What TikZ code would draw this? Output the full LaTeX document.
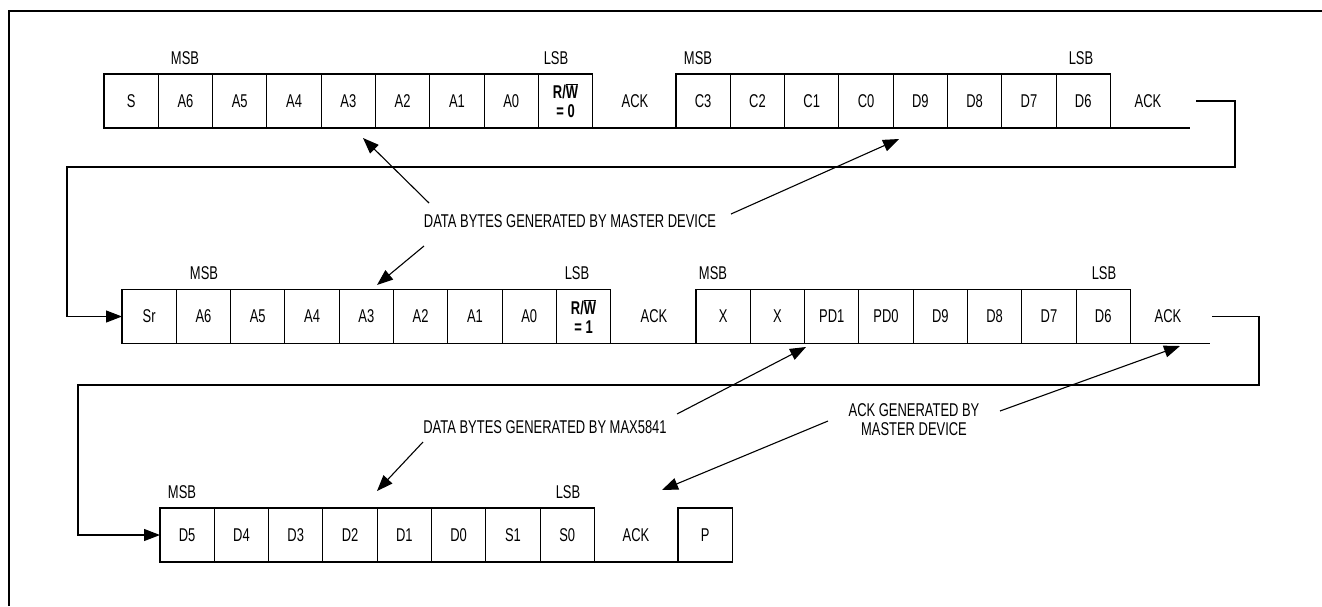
\documentclass[tikz,border=0pt]{standalone}
\usepackage{fontspec}
\setmainfont{Liberation Sans}[FakeStretch=0.7]
\usetikzlibrary{arrows.meta}
\begin{document}
\begin{tikzpicture}[x=1pt,y=-1pt,
  every node/.style={font=\fontsize{18.5}{19}\selectfont},
  bitbox/.style={draw,line width=1.1pt,minimum width=54.3pt,minimum height=54pt,inner sep=0pt,outer sep=0pt,align=center},
  plain/.style={inner sep=0pt},
  wire/.style={line width=1.1pt},
  pointer/.style={line width=1.1pt,-{Triangle[length=16pt,width=12pt]}},
  frame/.style={line width=2pt}]
\useasboundingbox (0,0) rectangle (1322,606);
\coordinate (fbl) at (9,606);
\coordinate (ftl) at (9,11);
\coordinate (ftr) at (1322,11);
\draw[frame] (fbl) -- (ftl) -- (ftr);

% ---------- top row ----------
\foreach \lab [count=\i] in {S,A6,A5,A4,A3,A2,A1,A0}
  \node[bitbox] (t\i) at ({104+54.3*(\i-0.5)},101) {\lab};
\node[bitbox] (t9) at ({104+54.3*8.5},101) {\bfseries R/$\overline{\hbox{\bfseries W}}$\\\bfseries = 0};
\node[plain] (ta1) at (635,101) {ACK};
\foreach \lab [count=\i] in {C3,C2,C1,C0,D9,D8,D7,D6}
  \node[bitbox] (u\i) at ({676+54.3*(\i-0.5)},101) {\lab};
\node[plain] (ta2) at (1148,101) {ACK};
\coordinate (tend) at (1190,128);
\draw[wire] (t1.south west) -- (tend);
\node[plain] (tmsb1) at (185,58) {MSB};
\node[plain] (tlsb1) at (556,58) {LSB};
\node[plain] (tmsb2) at (698,58) {MSB};
\node[plain] (tlsb2) at (1081,58) {LSB};

% top bracket
\coordinate (tb0) at (1196,101);
\coordinate (tb1) at (1235,101);
\coordinate (tb2) at (1235,167);
\coordinate (tb3) at (67,167);

% ---------- middle row ----------
\foreach \lab [count=\i] in {Sr,A6,A5,A4,A3,A2,A1,A0}
  \node[bitbox] (m\i) at ({122+54.3*(\i-0.5)},316.5) {\lab};
\node[bitbox] (m9) at ({122+54.3*8.5},316.5) {\bfseries R/$\overline{\hbox{\bfseries W}}$\\\bfseries = 1};
\node[plain] (ma1) at (654,316.5) {ACK};
\foreach \lab [count=\i] in {X,X,PD1,PD0,D9,D8,D7,D6}
  \node[bitbox] (n\i) at ({696+54.3*(\i-0.5)},316.5) {\lab};
\node[plain] (ma2) at (1168,316.5) {ACK};
\coordinate (mend) at (1210,343.5);
\draw[wire] (m1.south west) -- (mend);
\node[plain] (mmsb1) at (204,273) {MSB};
\node[plain] (mlsb1) at (577,273) {LSB};
\node[plain] (mmsb2) at (713,273) {MSB};
\node[plain] (mlsb2) at (1104,273) {LSB};

\draw[pointer] (tb0) -- (tb1) -- (tb2) -- (tb3) |- (m1.west);

% middle bracket
\coordinate (mb0) at (1212,316.5);
\coordinate (mb1) at (1259,316.5);
\coordinate (mb2) at (1259,385);
\coordinate (mb3) at (78,385);

% ---------- bottom row ----------
\foreach \lab [count=\i] in {D5,D4,D3,D2,D1,D0,S1,S0}
  \node[bitbox] (b\i) at ({160+54.3*(\i-0.5)},535) {\lab};
\node[plain] (ba1) at (636,535) {ACK};
\node[bitbox] (bp) at ({678+54.3*0.5},535) {P};
\draw[wire] (b1.south west) -- (bp.south east);
\node[plain] (bmsb) at (182,492) {MSB};
\node[plain] (blsb) at (568,492) {LSB};

\draw[pointer] (mb0) -- (mb1) -- (mb2) -- (mb3) |- (b1.west);

% ---------- annotations ----------
\node[plain] (txt1) at (570,221) {DATA BYTES GENERATED BY MASTER DEVICE};
\coordinate (a1s) at (429,203); \coordinate (a1e) at (363,138);
\coordinate (a2s) at (731,214); \coordinate (a2e) at (899,139);
\coordinate (a3s) at (424,246); \coordinate (a3e) at (377,285);
\draw[pointer] (a1s) -- (a1e);
\draw[pointer] (a2s) -- (a2e);
\draw[pointer] (a3s) -- (a3e);

\node[plain] (txt2) at (545,427) {DATA BYTES GENERATED BY MAX5841};
\coordinate (a4s) at (677,414); \coordinate (a4e) at (806,347);
\coordinate (a5s) at (423,442); \coordinate (a5e) at (377,491);
\draw[pointer] (a4s) -- (a4e);
\draw[pointer] (a5s) -- (a5e);

\node[plain,align=center] (txt3) at (914,420) {ACK GENERATED BY\\MASTER DEVICE};
\coordinate (a6s) at (1000,411); \coordinate (a6e) at (1180,346);
\coordinate (a7s) at (828,421); \coordinate (a7e) at (662,490);
\draw[pointer] (a6s) -- (a6e);
\draw[pointer] (a7s) -- (a7e);
\end{tikzpicture}
\end{document}
